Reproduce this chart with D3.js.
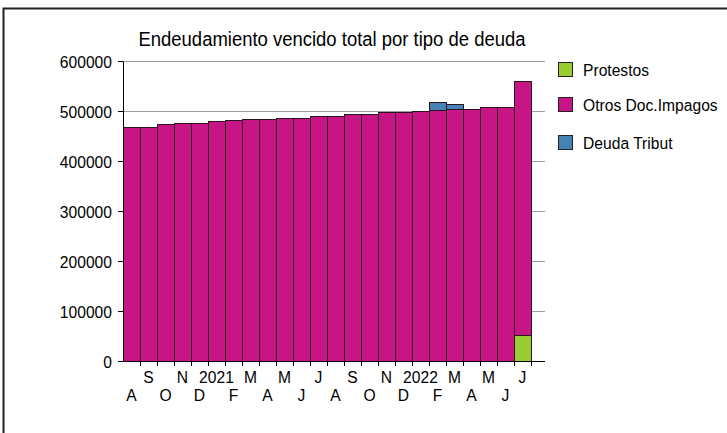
<!DOCTYPE html>
<meta charset="utf-8">
<style>

body {
  margin: 0;
  background: #fff;
}

svg text {
  font-family: "Liberation Sans", Arial, sans-serif;
  fill: #000;
}

</style>
<svg id="chart" width="727" height="433"></svg>
<script src="https://d3js.org/d3.v7.min.js"></script>
<script>

// Months Aug 2020 .. Jul 2022, one bar each.
var tickLabels = ["A", "S", "O", "N", "D", "2021", "F", "M", "A", "M", "J", "J",
                  "A", "S", "O", "N", "D", "2022", "F", "M", "A", "M", "J", "J"];

var seriesNames = ["Protestos", "Otros Doc.Impagos", "Deuda Tribut"];

var protestos = [0, 0, 0, 0, 0, 0, 0, 0, 0, 0, 0, 0,
                 0, 0, 0, 0, 0, 0, 0, 0, 0, 0, 0, 51000];

var otrosDoc = [468000, 467500, 472400, 476000, 475800, 479600, 480000, 483400, 483000, 485600, 485400, 490000,
                489600, 493000, 492600, 497000, 496400, 499600, 500400, 504000, 503400, 507400, 506800, 507600];

var deudaTribut = [0, 0, 0, 0, 0, 0, 0, 0, 0, 0, 0, 0,
                   0, 0, 0, 0, 0, 0, 17000, 10000, 0, 0, 0, 0];

var colors = ["#9acd32", "#c71585", "#4682b4"];

var yTicks = [0, 100000, 200000, 300000, 400000, 500000, 600000];

var rows = tickLabels.map(function(t, i) {
  return {i: i, p: protestos[i], o: otrosDoc[i], d: deudaTribut[i]};
});

var stacked = d3.stack().keys(["p", "o", "d"])(rows);

// the original font is a tall, narrow one: squeeze text horizontally
var squeeze = 0.92;

var svg = d3.select("svg");

// frame (sunken look: only top and left are dark)
svg.append("path")
    .attr("d", "M3.5,433V8.5H727")
    .attr("fill", "none")
    .attr("stroke", "#222")
    .attr("stroke-width", 2);

var x = d3.scaleBand()
    .domain(d3.range(tickLabels.length))
    .range([123, 531]);

var y = d3.scaleLinear()
    .domain([0, 600000])
    .range([360.5, 60.5]);

var plotRight = 545;

// gridlines
svg.append("g")
  .selectAll("line")
  .data(yTicks.slice(1))
  .enter().append("line")
    .attr("x1", 123)
    .attr("x2", plotRight)
    .attr("y1", function(d) { return Math.round(y(d)) + 0.5; })
    .attr("y2", function(d) { return Math.round(y(d)) + 0.5; })
    .attr("stroke", "#a0a0a0");

// bars
var series = svg.append("g")
  .selectAll("g")
  .data(stacked)
  .enter().append("g")
    .attr("fill", function(d, i) { return colors[i]; });

series.selectAll("rect")
  .data(function(d) { return d.filter(function(v) { return v[1] > v[0]; }); })
  .enter().append("rect")
    .attr("x", function(d) { return x(d.data.i) + 0.5; })
    .attr("width", x.bandwidth())
    .attr("y", function(d) { return Math.round(y(d[1])) + 0.5; })
    .attr("height", function(d) { return Math.round(y(d[0])) - Math.round(y(d[1])); })
    .attr("stroke", "#2a1420")
    .attr("stroke-width", 1);

// y axis
var yAxis = svg.append("g");
yAxis.append("line")
    .attr("x1", 123.5).attr("x2", 123.5)
    .attr("y1", Math.round(y(600000)) + 0.5)
    .attr("y2", Math.round(y(0)) + 0.5)
    .attr("stroke", "#000");

var yt = yAxis.selectAll(".tick")
  .data(yTicks)
  .enter().append("g")
    .attr("class", "tick")
    .attr("transform", function(d) { return "translate(0," + (Math.round(y(d)) + 0.5) + ")"; });

yt.append("line")
    .attr("x1", 118).attr("x2", 123)
    .attr("stroke", "#000");

yt.append("text")
    .attr("transform", "translate(112,0) scale(" + squeeze + ",1)")
    .attr("dy", "0.36em")
    .attr("text-anchor", "end")
    .style("font-size", "17px")
    .text(function(d) { return d; });

// x axis
var xAxis = svg.append("g");
xAxis.append("line")
    .attr("x1", 123)
    .attr("x2", plotRight)
    .attr("y1", Math.round(y(0)) + 0.5)
    .attr("y2", Math.round(y(0)) + 0.5)
    .attr("stroke", "#000");

xAxis.selectAll(".xtick")
  .data(d3.range(1, tickLabels.length + 1))
  .enter().append("line")
    .attr("class", "xtick")
    .attr("x1", function(d) { return x(0) + d * x.bandwidth() + 0.5; })
    .attr("x2", function(d) { return x(0) + d * x.bandwidth() + 0.5; })
    .attr("y1", Math.round(y(0)))
    .attr("y2", Math.round(y(0)) + 5)
    .attr("stroke", "#000");

xAxis.selectAll(".xlabel")
  .data(tickLabels)
  .enter().append("text")
    .attr("class", "xlabel")
    .attr("transform", function(d, i) {
      return "translate(" + (x(i) + x.bandwidth() / 2) + "," + (i % 2 ? 383 : 401) + ") scale(" + squeeze + ",1)";
    })
    .attr("text-anchor", "middle")
    .style("font-size", "17px")
    .text(function(d) { return d; });

// title
svg.append("text")
    .attr("transform", "translate(332,46) scale(0.88,1)")
    .attr("text-anchor", "middle")
    .style("font-size", "21px")
    .text("Endeudamiento vencido total por tipo de deuda");

// legend
var legendY = [69.5, 104.5, 142.5];
var legend = svg.append("g")
  .selectAll("g")
  .data(seriesNames)
  .enter().append("g")
    .attr("transform", function(d, i) { return "translate(558," + legendY[i] + ")"; });

legend.append("rect")
    .attr("x", 0.5)
    .attr("y", -7)
    .attr("width", 14)
    .attr("height", 14)
    .attr("fill", function(d, i) { return colors[i]; })
    .attr("stroke", "#222");

legend.append("text")
    .attr("transform", "translate(25,0) scale(" + squeeze + ",1)")
    .attr("dy", "0.36em")
    .style("font-size", "17px")
    .text(function(d) { return d; });

</script>
